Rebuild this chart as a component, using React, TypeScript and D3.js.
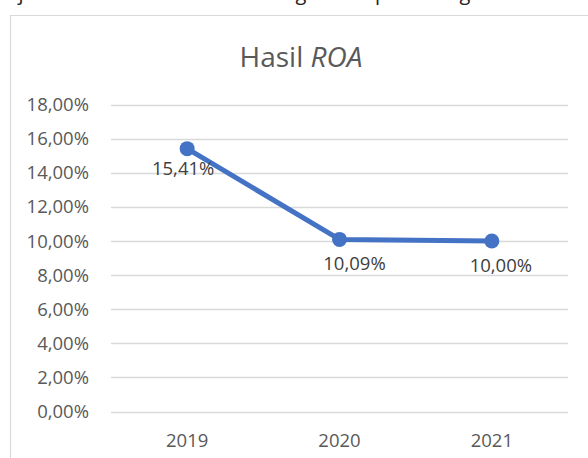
import { useRef, useEffect } from "react";
import * as d3 from "d3";

const years = ["2019", "2020", "2021"];
const roa = [15.41, 10.09, 10.0];
const yTicks = [0, 2, 4, 6, 8, 10, 12, 14, 16, 18];
// label offsets relative to each point (layout only)
const labelDx = [-4, 15, 9];
const labelDy = [26, 31, 31];

// cut-off letters of the document line above the chart
const topLetters = [
    { ch: "j", x: 21 },
    { ch: "g", x: 301 },
    { ch: "p", x: 381 },
    { ch: "g", x: 465 },
];

const fmt = (v: number) => v.toFixed(2).replace(".", ",") + "%";

export default function App() {
    const svgRef = useRef<SVGSVGElement>(null);

    useEffect(() => {
        if (!svgRef.current) return;
        const svg = d3.select(svgRef.current);
        svg.selectAll("*").remove();

        const width = 588;
        const height = 458;
        const font = "'Open Sans', sans-serif";
        const textColor = "#595959";

        svg.attr("width", width).attr("height", height);

        svg.append("rect")
            .attr("width", width)
            .attr("height", height)
            .attr("fill", "#fff");

        svg.append("g")
            .selectAll("text")
            .data(topLetters)
            .enter()
            .append("text")
            .attr("x", (d) => d.x)
            .attr("y", 0)
            .attr("text-anchor", "middle")
            .attr("font-family", font)
            .attr("font-size", 20)
            .attr("fill", "#222")
            .text((d) => d.ch);

        // chart frame (extends past the right and bottom edges)
        svg.append("path")
            .attr("d", `M10.5,${height + 2}V15.5H${width + 2}`)
            .attr("fill", "none")
            .attr("stroke", "#d9d9d9")
            .attr("stroke-width", 1.2);

        const x = d3.scaleBand().domain(years).range([111, 568]);
        const y = d3.scaleLinear().domain([0, 18]).range([411.5, 104.5]);

        const grid = svg.append("g");
        grid.selectAll("line")
            .data(yTicks)
            .enter()
            .append("line")
            .attr("x1", 111)
            .attr("x2", 568)
            .attr("y1", (d) => Math.round(y(d)) + 0.5)
            .attr("y2", (d) => Math.round(y(d)) + 0.5)
            .attr("stroke", "#d9d9d9")
            .attr("stroke-width", 1.3);

        svg.append("g")
            .selectAll("text")
            .data(yTicks)
            .enter()
            .append("text")
            .attr("x", 89)
            .attr("y", (d) => y(d))
            .attr("dy", "0.36em")
            .attr("text-anchor", "end")
            .attr("font-family", font)
            .attr("font-size", 18.5)
            .attr("fill", textColor)
            .text((d) => fmt(d));

        svg.append("g")
            .selectAll("text")
            .data(years)
            .enter()
            .append("text")
            .attr("x", (d) => x(d)! + x.bandwidth() / 2)
            .attr("y", 446.5)
            .attr("text-anchor", "middle")
            .attr("font-family", font)
            .attr("font-size", 18.5)
            .attr("fill", textColor)
            .text((d) => d);

        svg.append("text")
            .attr("x", 301)
            .attr("y", 66.5)
            .attr("text-anchor", "middle")
            .attr("font-family", font)
            .attr("font-size", 28)
            .attr("fill", textColor)
            .call((t) => {
                t.append("tspan").text("Hasil ");
                t.append("tspan").attr("font-style", "italic").text("ROA");
            });

        const pts = years.map((yr, i) => ({
            x: x(yr)! + x.bandwidth() / 2,
            y: y(roa[i]),
            v: roa[i],
            i,
        }));

        const line = d3
            .line<{ x: number; y: number }>()
            .x((d) => d.x)
            .y((d) => d.y);

        svg.append("path")
            .datum(pts)
            .attr("d", line)
            .attr("fill", "none")
            .attr("stroke", "#4472c4")
            .attr("stroke-width", 5)
            .attr("stroke-linejoin", "round")
            .attr("stroke-linecap", "round");

        svg.append("g")
            .selectAll("circle")
            .data(pts)
            .enter()
            .append("circle")
            .attr("cx", (d) => d.x)
            .attr("cy", (d) => d.y)
            .attr("r", 7.5)
            .attr("fill", "#4472c4");

        svg.append("g")
            .selectAll("text")
            .data(pts)
            .enter()
            .append("text")
            .attr("x", (d) => d.x + labelDx[d.i])
            .attr("y", (d) => d.y + labelDy[d.i])
            .attr("text-anchor", "middle")
            .attr("font-family", font)
            .attr("font-size", 18.5)
            .attr("fill", "#404040")
            .text((d) => fmt(d.v));
    }, []);

    return (
        <svg
            ref={svgRef}
            style={{ position: "absolute", left: 0, top: 0, display: "block" }}
        />
    );
}
